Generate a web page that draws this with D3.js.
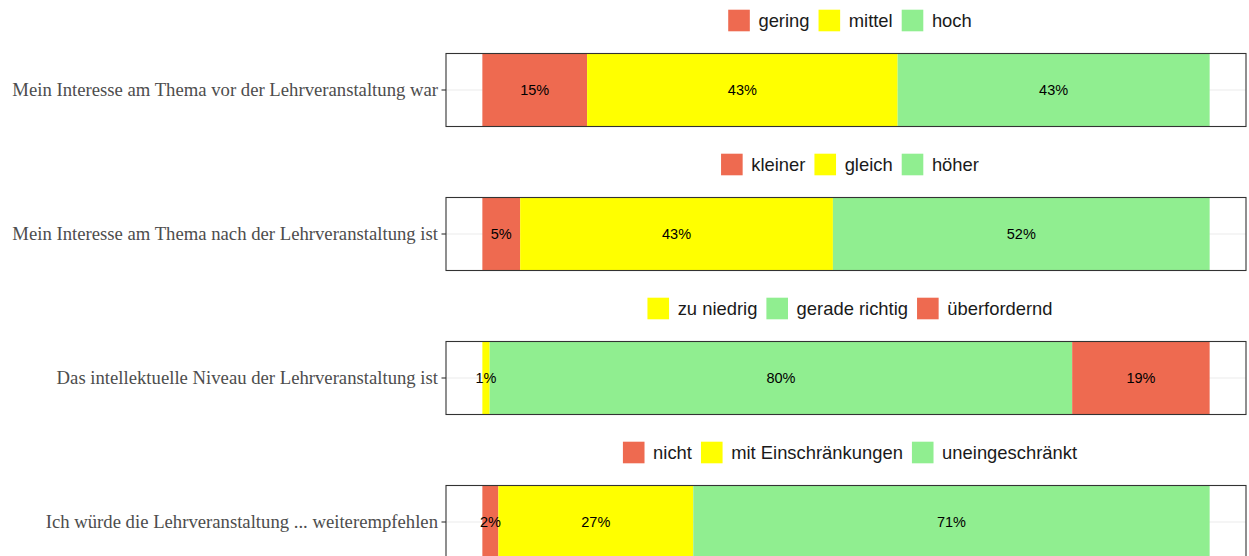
<!DOCTYPE html>
<html>
<head>
<meta charset="utf-8">
<script src="https://cdn.jsdelivr.net/npm/d3@7"></script>
<style>
  body { margin: 0; background: #fff; }
</style>
</head>
<body>
<div id="chart"></div>
<script>
// Items (one panel each)
var questions = [
  "Mein Interesse am Thema vor der Lehrveranstaltung war",
  "Mein Interesse am Thema nach der Lehrveranstaltung ist",
  "Das intellektuelle Niveau der Lehrveranstaltung ist",
  "Ich würde die Lehrveranstaltung ... weiterempfehlen"
];

// answer levels per item, in stacking order
var levels = [
  ["gering", "mittel", "hoch"],
  ["kleiner", "gleich", "höher"],
  ["zu niedrig", "gerade richtig", "überfordernd"],
  ["nicht", "mit Einschränkungen", "uneingeschränkt"]
];

// tone of each level (mapped to a colour below)
var tones = [
  ["neg", "mid", "pos"],
  ["neg", "mid", "pos"],
  ["mid", "pos", "neg"],
  ["neg", "mid", "pos"]
];

// shares in percent
var shares = [
  [14.4, 42.7, 42.9],
  [5.2, 43.0, 51.8],
  [1.0, 80.1, 18.9],
  [2.2, 26.8, 71.0]
];

// printed labels
var labels = [
  ["15%", "43%", "43%"],
  ["5%", "43%", "52%"],
  ["1%", "80%", "19%"],
  ["2%", "27%", "71%"]
];

var toneColor = { neg: "#EE6A50", mid: "#FFFF00", pos: "#90EE90" };

var svgWidth = 1249;
var svgHeight = 556;

var panelLeft = 446;
var panelRight = 1246;
var panelTop0 = 53.5;
var panelHeight = 73;
var panelStep = 144;
var legendCenterX = 850;

var svg = d3.select("#chart")
  .append("svg")
  .attr("width", svgWidth)
  .attr("height", svgHeight);

var x = d3.scaleLinear()
  .domain([-5, 105])
  .range([panelLeft, panelRight]);

questions.forEach(function(q, i) {
  var top = panelTop0 + i * panelStep;
  var g = svg.append("g");

  // y band for the single bar
  var y = d3.scaleBand()
    .domain([q])
    .range([top, top + panelHeight])
    .paddingInner(0)
    .paddingOuter(0);

  // gridline
  g.append("line")
    .attr("x1", panelLeft).attr("x2", panelRight)
    .attr("y1", y(q) + y.bandwidth() / 2)
    .attr("y2", y(q) + y.bandwidth() / 2)
    .attr("stroke", "#ebebeb")
    .attr("stroke-width", 1.1);

  // stacked segments
  var segs = [];
  var acc = 0;
  shares[i].forEach(function(v, j) {
    segs.push({ x0: acc, x1: acc + v, label: labels[i][j], tone: tones[i][j] });
    acc += v;
  });

  g.selectAll("rect.seg")
    .data(segs)
    .enter()
    .append("rect")
    .attr("class", "seg")
    .attr("x", d => x(d.x0))
    .attr("width", d => x(d.x1) - x(d.x0))
    .attr("y", y(q))
    .attr("height", y.bandwidth())
    .attr("fill", d => toneColor[d.tone]);

  g.selectAll("text.val")
    .data(segs)
    .enter()
    .append("text")
    .attr("class", "val")
    .attr("x", d => (x(d.x0) + x(d.x1)) / 2)
    .attr("y", y(q) + y.bandwidth() / 2)
    .attr("dy", "0.36em")
    .attr("text-anchor", "middle")
    .attr("font-family", "Liberation Sans, Arial, sans-serif")
    .attr("font-size", "14.5px")
    .attr("fill", "#000")
    .text(d => d.label);

  // panel border
  g.append("rect")
    .attr("x", panelLeft)
    .attr("y", top)
    .attr("width", panelRight - panelLeft)
    .attr("height", panelHeight)
    .attr("fill", "none")
    .attr("stroke", "#333333")
    .attr("stroke-width", 1.1);

  // y axis (tick + label)
  var yAxis = d3.axisLeft(y).tickSize(4.5).tickPadding(3.5);
  var ax = g.append("g")
    .attr("transform", `translate(${panelLeft}, 0)`)
    .call(yAxis);
  ax.select(".domain").remove();
  ax.selectAll(".tick line").attr("stroke", "#333333").attr("stroke-width", 1.1);
  ax.selectAll(".tick text")
    .attr("font-family", "Liberation Serif, Times New Roman, serif")
    .attr("font-size", "18.7px")
    .attr("fill", "#4d4d4d");

  // legend above panel
  var legY = top - 33;
  var leg = g.append("g");
  var items = levels[i].map(function(name, j) { return { name: name, tone: tones[i][j] }; });
  var cursor = 0;
  items.forEach(function(it) {
    leg.append("rect")
      .attr("x", cursor)
      .attr("y", legY - 10.8)
      .attr("width", 21.6)
      .attr("height", 21.6)
      .attr("fill", toneColor[it.tone]);
    cursor += 21.6 + 8.6;
    var t = leg.append("text")
      .attr("x", cursor)
      .attr("y", legY)
      .attr("dy", "0.35em")
      .attr("font-family", "Liberation Sans, Arial, sans-serif")
      .attr("font-size", "18.4px")
      .attr("fill", "#1a1a1a")
      .text(it.name);
    cursor += t.node().getComputedTextLength() + 9;
  });
  var total = cursor - 9;
  leg.attr("transform", `translate(${legendCenterX - total / 2}, 0)`);
});
</script>
</body>
</html>
